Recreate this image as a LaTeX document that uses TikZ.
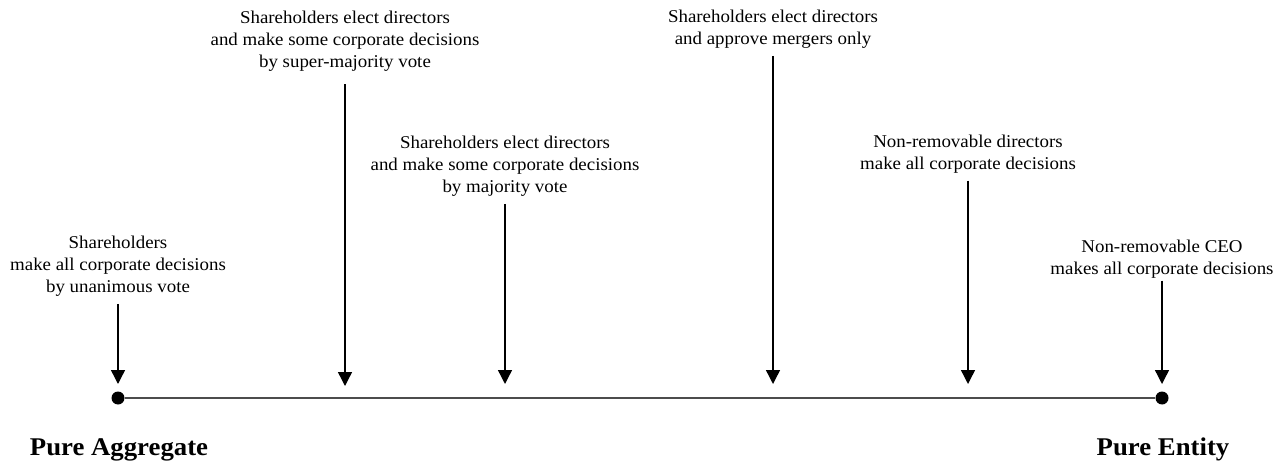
\documentclass[tikz,border=0pt]{standalone}
\usepackage{fontspec}
\setmainfont{Liberation Serif}
\newfontfamily\lblfont[FakeStretch=1.05]{Liberation Serif}
\usetikzlibrary{arrows.meta}
\begin{document}
\begin{tikzpicture}[x=1pt,y=-1pt,
  lbl/.style={align=center,inner sep=0pt,anchor=north,font=\lblfont\fontsize{18}{22}\selectfont},
  endlbl/.style={inner sep=0pt,anchor=base,font=\lblfont\fontsize{25.5}{30}\selectfont\bfseries},
  arr/.style={-{Triangle[length=14pt,width=14pt]},line width=1.4pt,shorten <=7pt},
  axis/.style={line width=1.5pt,draw=black!70},
  dot/.style={circle,fill=black,inner sep=0pt,minimum size=13pt}]
\useasboundingbox (0,0) rectangle (1282,465);
% axis
\node[dot] (L) at (118,398) {};
\node[dot] (R) at (1162,398) {};
\draw[axis] (L) -- (R);
% arrow tips
\coordinate (t1) at (118,384);
\coordinate (t2) at (345,386);
\coordinate (t3) at (505,384);
\coordinate (t4) at (773,384);
\coordinate (t5) at (968,384);
\coordinate (t6) at (1162,384);
% labels
\node[lbl] (n1) at (118,236) {Shareholders\\make all corporate decisions\\by unanimous vote};
\node[lbl] (n2) at (345,10.5) {Shareholders elect directors\\and make some corporate decisions\\by super-majority vote};
\node[lbl] (n3) at (505,136) {Shareholders elect directors\\and make some corporate decisions\\by majority vote};
\node[lbl] (n4) at (773,10) {Shareholders elect directors\\and approve mergers only};
\node[lbl] (n5) at (968,135) {Non-removable directors\\make all corporate decisions};
\node[lbl] (n6) at (1162,240) {Non-removable CEO\\makes all corporate decisions};
% arrows
\draw[arr] (n1.south) -- (t1);
\draw[arr,shorten <=13pt] (n2.south) -- (t2);
\draw[arr] (n3.south) -- (t3);
\draw[arr] (n4.south) -- (t4);
\draw[arr] (n5.south) -- (t5);
\draw[arr,shorten <=2pt] (n6.south) -- (t6);
% end labels
\node[endlbl] (pa) at (119,455) {Pure Aggregate};
\node[endlbl] (pe) at (1163,455) {Pure Entity};
\end{tikzpicture}
\end{document}
